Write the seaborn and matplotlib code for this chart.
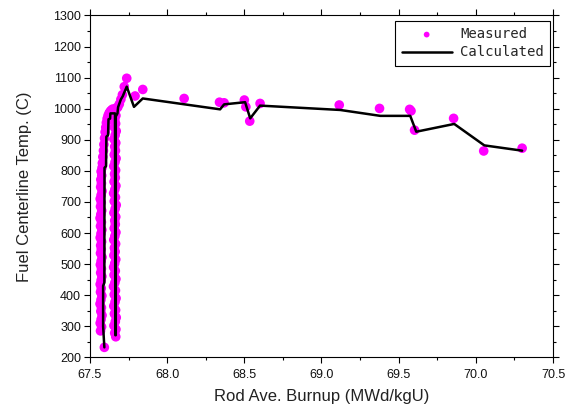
import matplotlib
matplotlib.use("Agg")
import matplotlib.pyplot as plt
import seaborn as sns
import pandas as pd
from matplotlib.ticker import MultipleLocator

# ---- Measured data (burnup MWd/kgU, temperature C) ----
# first power ramp column
colA_burnup = [
    67.593,
    67.568, 67.575, 67.566, 67.572, 67.578, 67.570, 67.574, 67.565, 67.571, 67.577,
    67.568, 67.573, 67.566, 67.572, 67.577, 67.569, 67.574, 67.567, 67.572, 67.578,
    67.568, 67.573, 67.569, 67.575, 67.566, 67.571, 67.577, 67.568, 67.574, 67.565,
    67.570, 67.576, 67.568, 67.573, 67.566, 67.572, 67.578, 67.569, 67.574, 67.570,
    67.576, 67.572, 67.578,
]
colA_temp = [
    232,
    285, 298, 310, 322, 335, 348, 360, 372, 385, 398,
    410, 422, 435, 448, 460, 472, 485, 498, 510, 522,
    535, 548, 560, 572, 585, 598, 610, 622, 635, 648,
    660, 672, 685, 698, 710, 722, 735, 748, 760, 772,
    785, 798, 810,
]
# climb to full power
climb_burnup = [67.580, 67.583, 67.587, 67.590, 67.594, 67.598, 67.602, 67.606,
                67.611, 67.617, 67.624, 67.632, 67.640, 67.648]
climb_temp = [825, 845, 865, 885, 905, 925, 940, 955, 968, 978, 986, 992, 996, 999]
# second power ramp column
colB_burnup = [
    67.667,
    67.660, 67.668, 67.655, 67.664, 67.670, 67.658, 67.666, 67.654, 67.662, 67.669,
    67.657, 67.665, 67.652, 67.661, 67.668, 67.656, 67.664, 67.653, 67.660, 67.667,
    67.655, 67.663, 67.658, 67.666, 67.654, 67.661, 67.668, 67.657, 67.664, 67.660,
    67.667, 67.655, 67.663, 67.670, 67.657, 67.665, 67.653, 67.661, 67.668, 67.656,
    67.664, 67.659, 67.666, 67.654, 67.662, 67.669, 67.657, 67.665, 67.660, 67.667,
    67.655, 67.663, 67.670, 67.658, 67.666, 67.661, 67.668, 67.663, 67.670, 67.672,
]
colB_temp = [
    266,
    278, 290, 302, 315, 328, 340, 352, 365, 378, 390,
    402, 415, 428, 440, 452, 465, 478, 490, 502, 515,
    528, 540, 552, 565, 578, 590, 602, 615, 628, 640,
    652, 665, 678, 690, 702, 715, 728, 740, 752, 765,
    778, 790, 802, 815, 828, 840, 852, 865, 878, 890,
    902, 915, 928, 940, 952, 965, 978, 990, 1000, 1003,
]
# end of ramp and hold period
hold_burnup = [
    67.680, 67.690, 67.700, 67.710, 67.722, 67.738, 67.792, 67.842,
    68.110, 68.339, 68.369, 68.500, 68.510, 68.535, 68.602, 69.115, 69.376, 69.571,
    69.580, 69.603, 69.856, 70.051, 70.300,
]
hold_temp = [
    1005, 1015, 1030, 1045, 1071, 1098, 1041, 1062,
    1033, 1021, 1019, 1028, 1006, 960, 1017, 1012, 1001, 998,
    993, 931, 969, 864, 873,
]

# ---- Calculated data ----
calc_burnup = [
    67.593, 67.585, 67.585, 67.593, 67.594, 67.604, 67.606, 67.617, 67.620, 67.630,
    67.632, 67.662, 67.664, 67.667, 67.667, 67.678, 67.682, 67.700, 67.712, 67.738,
    67.785, 67.842, 68.343, 68.369, 68.505, 68.538, 68.602, 69.121, 69.381, 69.575,
    69.614, 69.860, 70.055, 70.300,
]
calc_temp = [
    232, 300, 430, 440, 810, 815, 910, 915, 966, 968,
    985, 985, 271, 271, 975, 985, 1005, 1030, 1040, 1071,
    1006, 1033, 998, 1014, 1021, 969, 1010, 996, 977, 977,
    926, 951, 882, 865,
]

meas = pd.DataFrame({
    "burnup": colA_burnup + climb_burnup + colB_burnup + hold_burnup,
    "temp": colA_temp + climb_temp + colB_temp + hold_temp,
})
calc = pd.DataFrame({"burnup": calc_burnup, "temp": calc_temp})

sns.set_theme(style="ticks")
plt.rcParams["font.family"] = ["Liberation Sans", "DejaVu Sans"]

fig = plt.figure(figsize=(5.66, 4.12), dpi=100)
ax = fig.add_axes([90 / 566, 1 - 357.3 / 412, (553 - 90) / 566, (357.3 - 15.5) / 412])

sns.scatterplot(data=meas, x="burnup", y="temp", ax=ax, color="#FF00FF",
                s=48, edgecolor="none", label="Measured", zorder=2)
sns.lineplot(data=calc, x="burnup", y="temp", ax=ax, color="black",
             linewidth=1.8, sort=False, estimator=None, label="Calculated", zorder=3)

ax.set_xlim(67.5, 70.5)
ax.set_ylim(200, 1300)
ax.yaxis.set_major_locator(MultipleLocator(100))
ax.yaxis.set_minor_locator(MultipleLocator(50))
ax.xaxis.set_minor_locator(MultipleLocator(0.25))
ax.set_xticks([67.5, 68.0, 68.5, 69.0, 69.5, 70.0, 70.5])
ax.set_xticklabels(["67.5", "68.0", "68.5", "69.0", "69.5", "70.0", "70.5"])

ax.tick_params(which="both", direction="out", top=True, right=True,
               labelsize=9, color="black", labelcolor="#111111", width=0.8)
ax.tick_params(which="major", length=4.5)
ax.tick_params(which="minor", length=2.5)
ax.tick_params(axis="y", which="major", pad=2)
ax.tick_params(axis="x", which="major", pad=4)
for sp in ax.spines.values():
    sp.set_visible(True)
    sp.set_color("black")
    sp.set_linewidth(0.8)

ax.set_xlabel("Rod Ave. Burnup (MWd/kgU)", fontsize=12, color="#222222", labelpad=6)
ax.set_ylabel("Fuel Centerline Temp. (C)", fontsize=12, color="#222222", labelpad=15)

leg = ax.legend(loc="upper right", bbox_to_anchor=(0.9935, 0.984), borderaxespad=0,
                frameon=True, fancybox=False, edgecolor="black", framealpha=1,
                prop={"family": "DejaVu Sans Mono", "size": 10},
                handlelength=3.6, handletextpad=0.6, borderpad=0.45,
                labelspacing=0.3, markerscale=0.6)
leg.get_frame().set_linewidth(0.8)

fig.savefig("out.png", dpi=100)
